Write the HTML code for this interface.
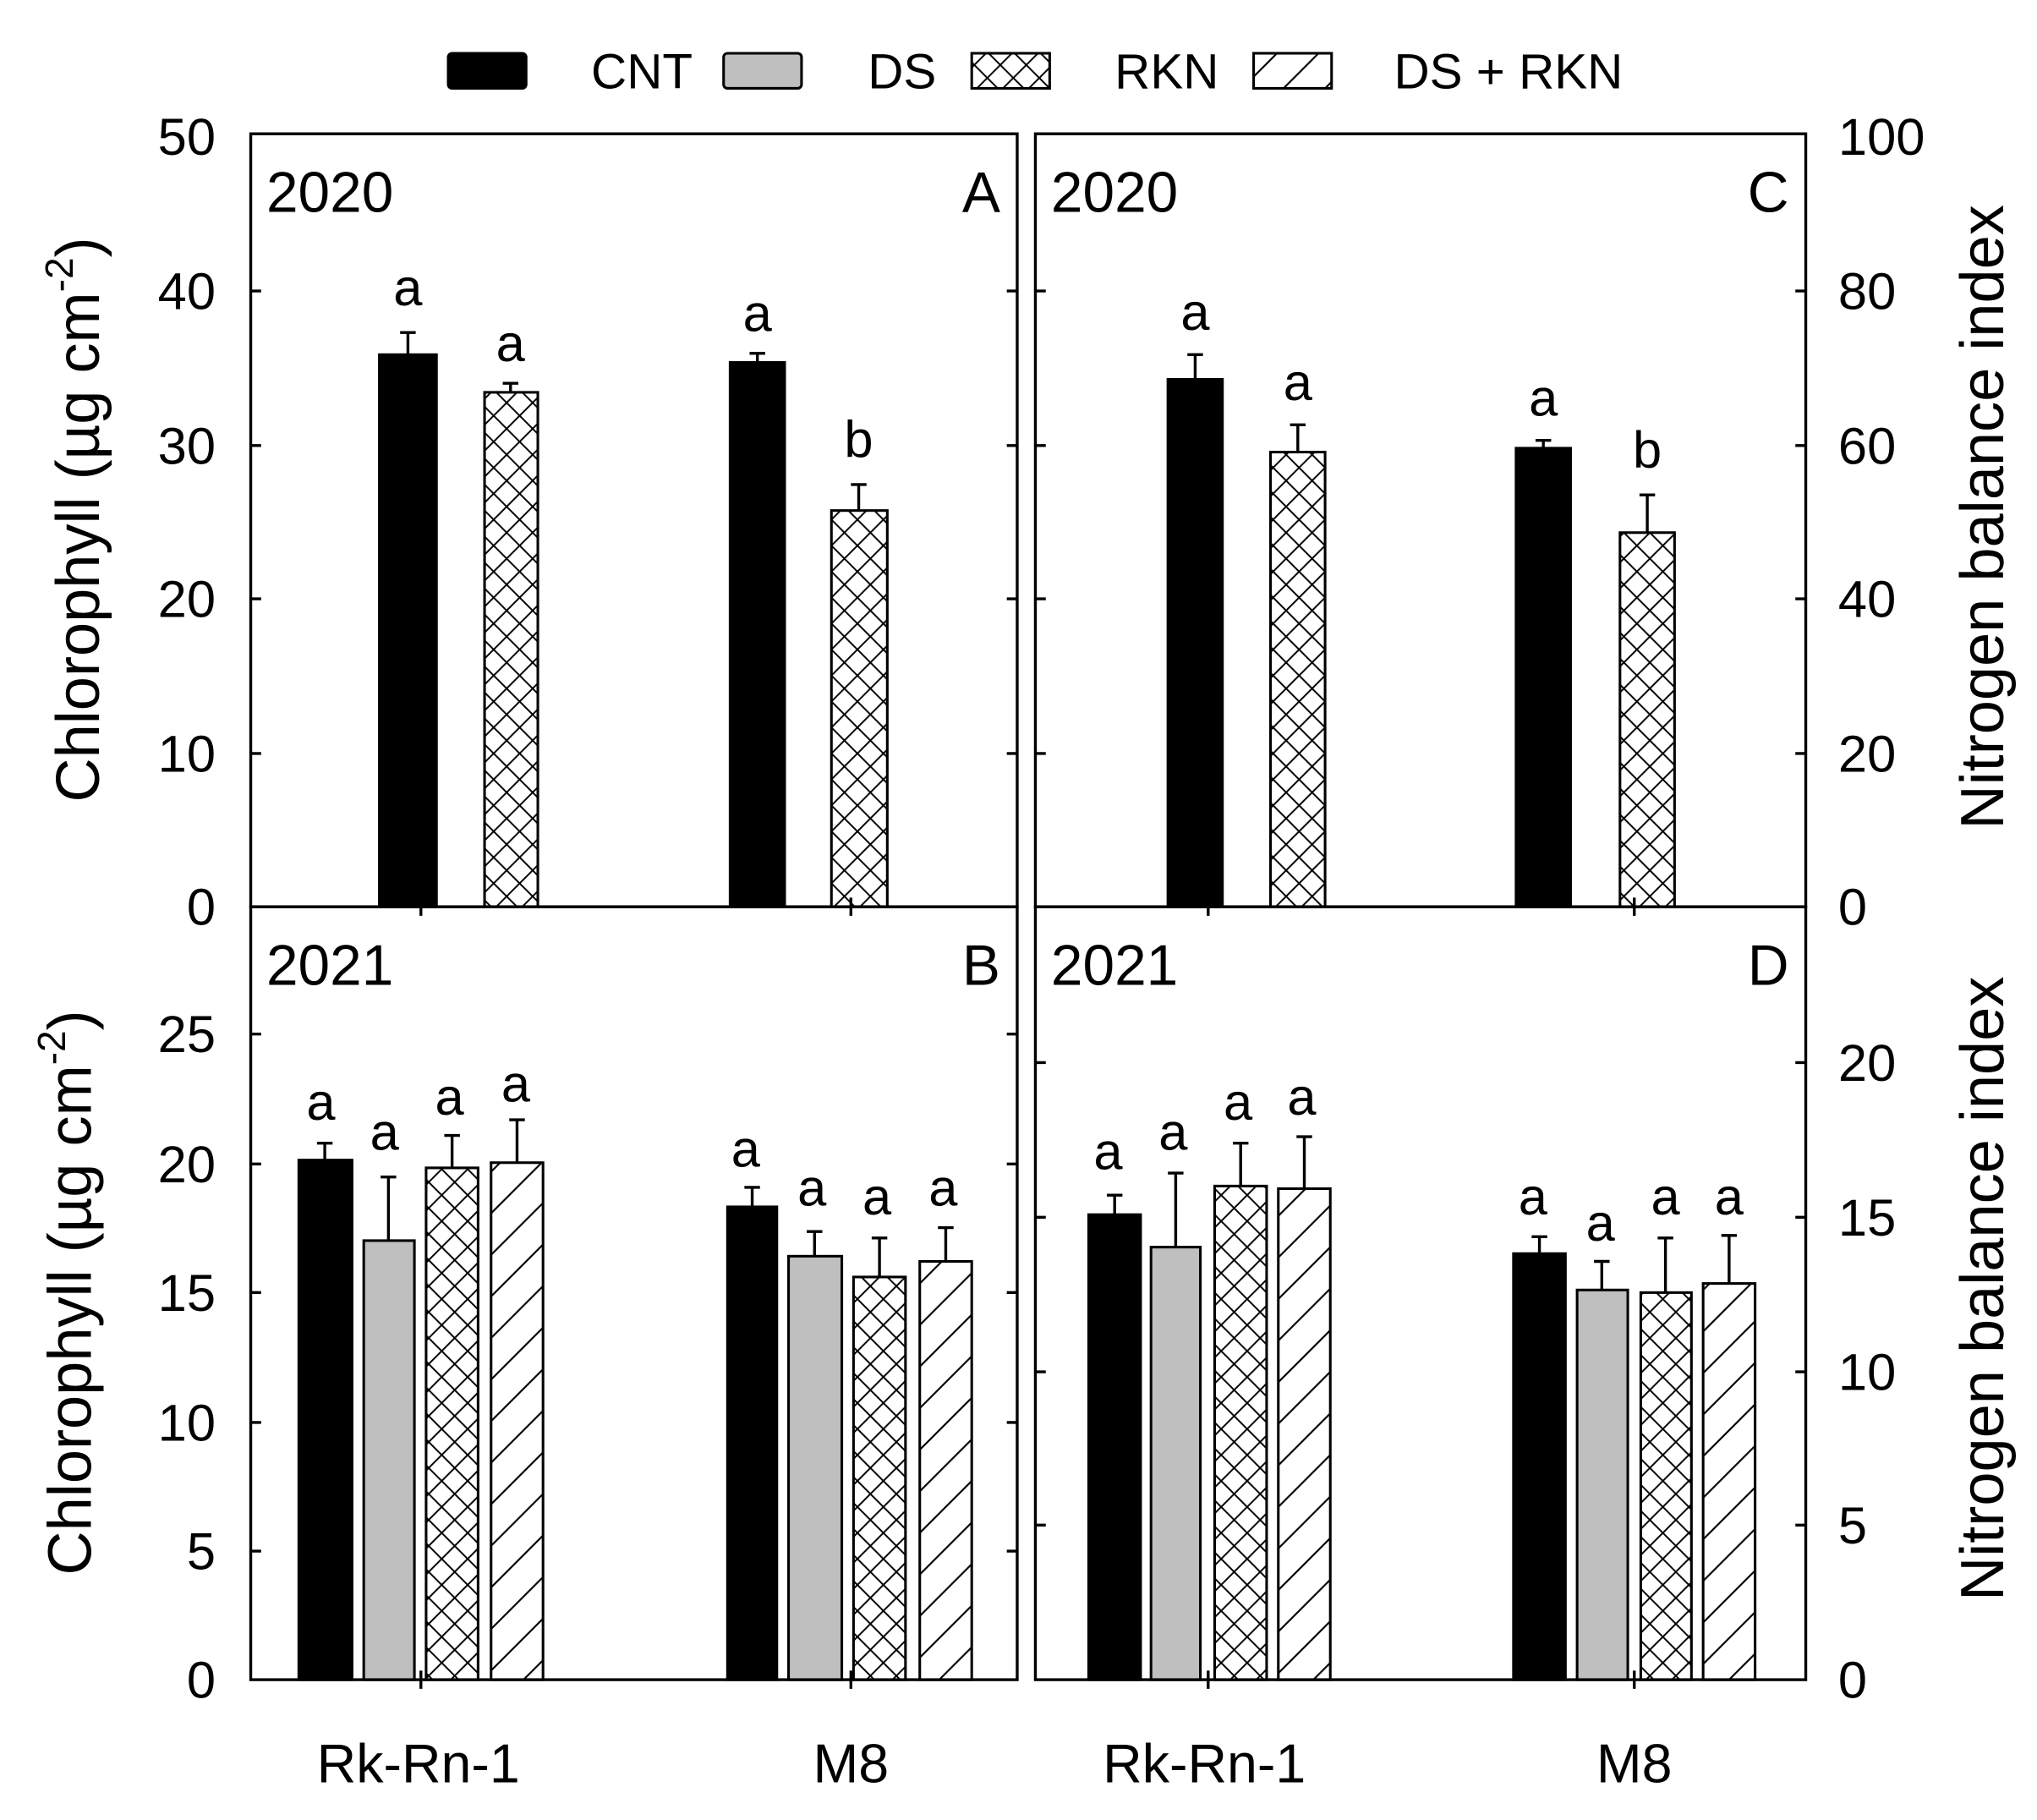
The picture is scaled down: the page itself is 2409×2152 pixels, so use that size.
<!DOCTYPE html>
<html><head><meta charset="utf-8"><style>html,body{margin:0;padding:0;background:#fff}svg{display:block}</style></head>
<body>
<svg width="2409" height="2152" viewBox="0 0 1568 1401" preserveAspectRatio="none" xmlns="http://www.w3.org/2000/svg" font-family="Liberation Sans, Arial, sans-serif">
<defs>
<pattern id="xh" patternUnits="userSpaceOnUse" width="20" height="20">
<rect width="20" height="20" fill="#fff"/>
<path d="M0,0L20,20M20,0L0,20" stroke="#000" stroke-width="1.3"/>
</pattern>
<pattern id="dh" patternUnits="userSpaceOnUse" width="32" height="32">
<rect width="32" height="32" fill="#fff"/>
<path d="M0,32L32,0M-6,6L6,-6M26,38L38,26" stroke="#000" stroke-width="1.4"/>
</pattern>
</defs>
<rect width="1568" height="1401" fill="#fff"/>

<g font-size="38">
<rect x="345" y="41" width="60" height="27" rx="3" fill="#000" stroke="#000" stroke-width="2"/>
<text x="455" y="68">CNT</text>
<rect x="557" y="41" width="60" height="27" rx="3" fill="#bfbfbf" stroke="#000" stroke-width="2"/>
<text x="668" y="68">DS</text>
<rect x="748" y="41" width="60" height="27" fill="url(#xh)" stroke="#000" stroke-width="2"/>
<text x="858" y="68">RKN</text>
<rect x="965" y="41" width="60" height="27" fill="url(#dh)" stroke="#000" stroke-width="2"/>
<text x="1073" y="68">DS + RKN</text>
</g>

<g stroke="#000" stroke-width="2">
<rect x="292" y="273" width="44" height="425" fill="#000"/>
<rect x="373" y="302" width="41" height="396" fill="url(#xh)"/>
<rect x="562" y="279" width="42" height="419" fill="#000"/>
<rect x="640" y="393" width="43" height="305" fill="url(#xh)"/>
<rect x="899" y="292" width="42" height="406" fill="#000"/>
<rect x="978" y="348" width="42" height="350" fill="url(#xh)"/>
<rect x="1167" y="345" width="42" height="353" fill="#000"/>
<rect x="1247" y="410" width="42" height="288" fill="url(#xh)"/>
<rect x="230" y="893" width="41" height="400" fill="#000"/>
<rect x="280" y="955" width="39" height="338" fill="#bfbfbf"/>
<rect x="328" y="899" width="40" height="394" fill="url(#xh)"/>
<rect x="378" y="895" width="40" height="398" fill="url(#dh)"/>
<rect x="560" y="929" width="38" height="364" fill="#000"/>
<rect x="607" y="967" width="41" height="326" fill="#bfbfbf"/>
<rect x="657" y="983" width="40" height="310" fill="url(#xh)"/>
<rect x="708" y="971" width="40" height="322" fill="url(#dh)"/>
<rect x="838" y="935" width="40" height="358" fill="#000"/>
<rect x="886" y="960" width="38" height="333" fill="#bfbfbf"/>
<rect x="935" y="913" width="40" height="380" fill="url(#xh)"/>
<rect x="984" y="915" width="40" height="378" fill="url(#dh)"/>
<rect x="1165" y="965" width="40" height="328" fill="#000"/>
<rect x="1214" y="993" width="39" height="300" fill="#bfbfbf"/>
<rect x="1263" y="995" width="39" height="298" fill="url(#xh)"/>
<rect x="1311" y="988" width="40" height="305" fill="url(#dh)"/>
</g>

<g stroke="#000" stroke-width="2.2" fill="none">
<path d="M314,273V256M308,256H320"/>
<path d="M393,302V295M387,295H399"/>
<path d="M583,279V272M577,272H589"/>
<path d="M661,393V373M655,373H667"/>
<path d="M920,292V273M914,273H926"/>
<path d="M999,348V327M993,327H1005"/>
<path d="M1188,345V339M1182,339H1194"/>
<path d="M1268,410V381M1262,381H1274"/>
<path d="M250,893V880M244,880H256"/>
<path d="M299,955V906M293,906H305"/>
<path d="M348,899V874M342,874H354"/>
<path d="M398,895V862M392,862H404"/>
<path d="M579,929V914M573,914H585"/>
<path d="M627,967V948M621,948H633"/>
<path d="M677,983V953M671,953H683"/>
<path d="M728,971V945M722,945H734"/>
<path d="M858,935V920M852,920H864"/>
<path d="M905,960V903M899,903H911"/>
<path d="M955,913V880M949,880H961"/>
<path d="M1004,915V875M998,875H1010"/>
<path d="M1185,965V952M1179,952H1191"/>
<path d="M1233,993V971M1227,971H1239"/>
<path d="M1282,995V953M1276,953H1288"/>
<path d="M1331,988V951M1325,951H1337"/>
</g>

<g font-size="40" text-anchor="middle">
<text x="314" y="235">a</text><text x="393" y="278">a</text><text x="583" y="255">a</text><text x="661" y="352">b</text>
<text x="920" y="254">a</text><text x="999" y="308">a</text><text x="1188" y="320">a</text><text x="1268" y="360">b</text>
<text x="247" y="862">a</text><text x="296" y="885">a</text><text x="346" y="858">a</text><text x="397" y="848">a</text>
<text x="574" y="898">a</text><text x="625" y="928">a</text><text x="675" y="935">a</text><text x="726" y="928">a</text>
<text x="853" y="900">a</text><text x="903" y="885">a</text><text x="953" y="862">a</text><text x="1002" y="858">a</text>
<text x="1180" y="935">a</text><text x="1232" y="955">a</text><text x="1282" y="935">a</text><text x="1331" y="935">a</text>
</g>

<g stroke="#000" stroke-width="2.2" fill="none">
<rect x="193" y="103" width="590" height="595"/>
<rect x="193" y="698" width="590" height="595"/>
<rect x="797" y="103" width="593" height="595"/>
<rect x="797" y="698" width="593" height="595"/>
<path d="M193,580h8M193,461h8M193,343h8M193,224h8M783,580h-8M783,461h-8M783,343h-8M783,224h-8"/>
<path d="M193,1194h8M193,1095h8M193,995h8M193,896h8M193,796h8M783,1194h-8M783,1095h-8M783,995h-8M783,896h-8M783,796h-8"/>
<path d="M1390,580h-8M1390,461h-8M1390,343h-8M1390,224h-8M797,580h8M797,461h8M797,343h8M797,224h8"/>
<path d="M1390,1174h-8M1390,1056h-8M1390,937h-8M1390,818h-8M797,1174h8M797,1056h8M797,937h8M797,818h8"/>
<path d="M324,698v-7M655,698v-7M324,698v7M655,698v7M930,698v-7M1258,698v-7M930,698v7M1258,698v7"/>
<path d="M324,1293v-7M655,1293v-7M324,1293v7M655,1293v7M930,1293v-7M1258,1293v-7M930,1293v7M1258,1293v7"/>
</g>

<g font-size="40" text-anchor="end">
<text x="166" y="712">0</text><text x="166" y="594">10</text><text x="166" y="475">20</text><text x="166" y="357">30</text><text x="166" y="238">40</text><text x="166" y="119">50</text>
<text x="166" y="1307">0</text><text x="166" y="1208">5</text><text x="166" y="1109">10</text><text x="166" y="1009">15</text><text x="166" y="910">20</text><text x="166" y="810">25</text>
</g>
<g font-size="40" text-anchor="start">
<text x="1415" y="712">0</text><text x="1415" y="594">20</text><text x="1415" y="475">40</text><text x="1415" y="357">60</text><text x="1415" y="238">80</text><text x="1415" y="119">100</text>
<text x="1415" y="1307">0</text><text x="1415" y="1188">5</text><text x="1415" y="1070">10</text><text x="1415" y="951">15</text><text x="1415" y="832">20</text>
</g>

<g font-size="44">
<text x="205" y="163">2020</text><text x="770" y="163" text-anchor="end">A</text>
<text x="809" y="163">2020</text><text x="1377" y="163" text-anchor="end">C</text>
<text x="205" y="758">2021</text><text x="770" y="758" text-anchor="end">B</text>
<text x="809" y="758">2021</text><text x="1377" y="758" text-anchor="end">D</text>
</g>

<g font-size="42" text-anchor="middle">
<text x="322" y="1372">Rk-Rn-1</text><text x="655" y="1372">M8</text>
<text x="927" y="1372">Rk-Rn-1</text><text x="1258" y="1372">M8</text>
</g>

<g font-size="47" text-anchor="middle">
<text transform="translate(76,400) rotate(-90)">Chlorophyll (µg cm<tspan font-size="30" dy="-20">-2</tspan><tspan dy="20">)</tspan></text>
<text transform="translate(70,995) rotate(-90)">Chlorophyll (µg cm<tspan font-size="30" dy="-20">-2</tspan><tspan dy="20">)</tspan></text>
<text transform="translate(1542,398) rotate(-90)">Nitrogen balance index</text>
<text transform="translate(1542,992) rotate(-90)">Nitrogen balance index</text>
</g>
</svg>
</body></html>
